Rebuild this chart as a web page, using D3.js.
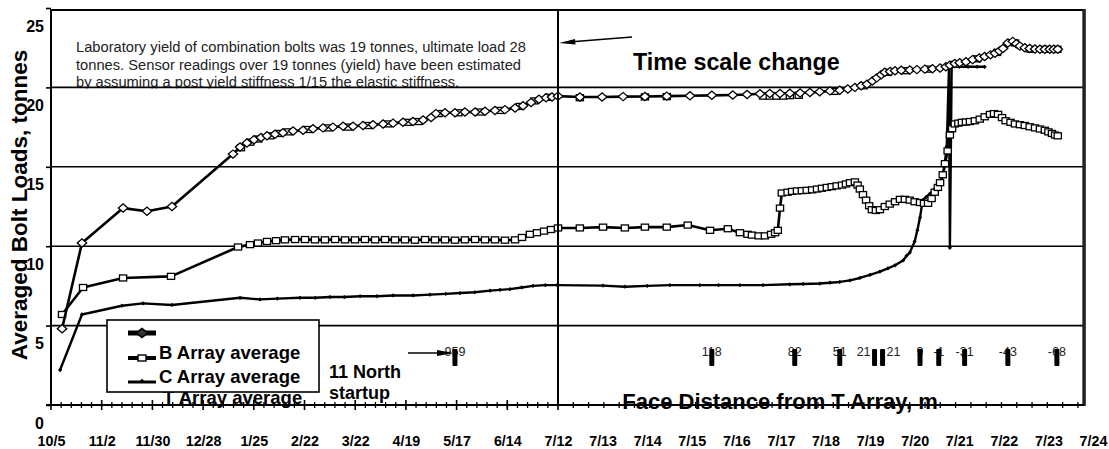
<!DOCTYPE html>
<html>
<head>
<meta charset="utf-8">
<script src="https://cdn.jsdelivr.net/npm/d3@7"></script>
<style>
  body { margin: 0; background: #fff; }
  svg text { font-family: "Liberation Sans", Arial, sans-serif; }
</style>
</head>
<body>
<svg id="chart" width="1109" height="449"></svg>
<script>
// x values are days counted from 10/5; after 7/12 (day 280) the scale is one label per day
const dateLabels = ["10/5", "11/2", "11/30", "12/28", "1/25", "2/22", "3/22", "4/19", "5/17", "6/14",
    "7/12", "7/13", "7/14", "7/15", "7/16", "7/17", "7/18", "7/19", "7/20", "7/21", "7/22", "7/23", "7/24"];
const dateDays = [0, 28, 56, 84, 112, 140, 168, 196, 224, 252,
    280, 281, 282, 283, 284, 285, 286, 287, 288, 289, 290, 291, 292];
const yTicks = [0, 5, 10, 15, 20, 25];
const gridValues = [5, 10, 15, 20];

// T array average (diamonds) [day, tonnes]
const tArray = [
    [6.1, 4.8], [17.1, 10.2], [39.8, 12.4], [53.0, 12.2], [66.8, 12.5], [100.5, 15.8], [104.4, 16.25],
    [108.2, 16.5], [112.1, 16.7], [116.0, 16.85], [119.3, 16.95], [123.7, 17.05], [128.1, 17.15],
    [133.7, 17.25], [139.2, 17.3], [144.7, 17.4], [150.2, 17.45], [155.7, 17.5], [161.3, 17.55],
    [166.8, 17.55], [172.3, 17.6], [177.8, 17.65], [183.4, 17.7], [188.9, 17.75], [194.4, 17.8],
    [199.9, 17.85], [205.5, 17.95], [209.9, 18.1], [212.6, 18.35], [217.6, 18.4], [223.1, 18.4],
    [228.6, 18.45], [234.2, 18.45], [239.7, 18.5], [245.2, 18.55], [250.7, 18.6], [256.3, 18.7],
    [260.7, 18.85], [265.1, 19.05], [269.5, 19.25], [273.4, 19.35], [276.7, 19.4], [280.0, 19.45],
    [280.49, 19.4], [280.99, 19.4], [281.46, 19.42], [281.95, 19.43], [282.44, 19.45], [282.96, 19.47],
    [283.45, 19.5], [283.92, 19.52], [284.24, 19.55], [284.53, 19.6], [284.75, 19.62], [284.98, 19.62],
    [285.2, 19.63], [285.43, 19.65], [285.65, 19.68], [285.87, 19.72], [286.1, 19.78], [286.32, 19.82],
    [286.5, 19.9], [286.66, 20.0], [286.8, 20.1], [286.93, 20.2], [287.05, 20.4], [287.15, 20.6],
    [287.25, 20.8], [287.33, 20.95], [287.45, 21.0], [287.56, 21.05], [287.7, 21.08], [287.89, 21.1],
    [288.05, 21.12], [288.23, 21.15], [288.4, 21.18], [288.57, 21.22], [288.7, 21.3], [288.79, 21.4],
    [288.9, 21.5], [289.01, 21.55], [289.15, 21.62], [289.3, 21.75], [289.45, 21.85], [289.57, 21.95],
    [289.7, 22.05], [289.8, 22.15], [289.9, 22.3], [289.98, 22.45], [290.09, 22.8], [290.2, 22.9],
    [290.28, 22.75], [290.36, 22.6], [290.47, 22.5], [290.58, 22.45], [290.7, 22.42], [290.81, 22.4],
    [290.92, 22.4], [291.03, 22.4], [291.12, 22.4], [291.21, 22.4]
];

// second trace on the upper curve (square markers)
const upperSquares = [
    [104.9, 16.2], [110, 16.55], [114.5, 16.75], [121, 16.95], [126, 17.1], [131, 17.2], [142, 17.35],
    [153, 17.45], [164, 17.5], [175, 17.6], [186, 17.7], [197, 17.8], [203, 17.85], [214, 18.35],
    [225, 18.4], [237, 18.45], [248, 18.55], [259, 18.8], [267, 19.15], [275, 19.38], [280.49, 19.35],
    [281.95, 19.4], [282.44, 19.42], [284.6, 19.45], [284.75, 19.45], [284.9, 19.45], [285.05, 19.45],
    [285.2, 19.48], [285.4, 19.5], [286.2, 19.75], [286.85, 20.1], [287.4, 20.95], [287.8, 21.05],
    [288.3, 21.15], [288.9, 21.45], [289.4, 21.8], [289.85, 22.2], [290.25, 22.8], [290.6, 22.4],
    [290.95, 22.4], [291.2, 22.4]
];

// B array average (squares)
const bArray = [
    [6.1, 5.7], [17.7, 7.4], [39.8, 8.0], [66.3, 8.1], [103.3, 9.95], [109.9, 10.1], [114.3, 10.2],
    [119.3, 10.3], [124.3, 10.35], [129.2, 10.4], [134.8, 10.42], [140.3, 10.42], [145.8, 10.4],
    [151.3, 10.4], [156.9, 10.42], [162.4, 10.4], [167.9, 10.4], [173.4, 10.42], [179, 10.4],
    [184.5, 10.42], [190, 10.4], [195.5, 10.4], [201, 10.38], [206.6, 10.42], [212.1, 10.4],
    [217.6, 10.4], [223.1, 10.38], [228.6, 10.4], [234.2, 10.42], [239.7, 10.4], [245.2, 10.4],
    [250.7, 10.38], [256.3, 10.4], [260.1, 10.55], [264.5, 10.75], [268.4, 10.85], [272.3, 10.95],
    [276.1, 11.05], [280, 11.15], [280.49, 11.15], [281.01, 11.2], [281.5, 11.15], [281.95, 11.2],
    [282.44, 11.2], [282.91, 11.33], [283.41, 11.0], [283.81, 11.1], [284.08, 10.85], [284.25, 10.75],
    [284.35, 10.7], [284.5, 10.65], [284.64, 10.65], [284.78, 10.75], [284.87, 10.85], [284.93, 11.0],
    [284.98, 12.4], [285.02, 13.35], [285.15, 13.4], [285.25, 13.45], [285.36, 13.48], [285.47, 13.5],
    [285.58, 13.52], [285.7, 13.55], [285.81, 13.6], [285.92, 13.65], [286.03, 13.7], [286.14, 13.75],
    [286.25, 13.8], [286.37, 13.85], [286.46, 13.92], [286.55, 14.0], [286.66, 14.05], [286.72, 13.85],
    [286.77, 13.6], [286.84, 13.25], [286.91, 12.9], [286.98, 12.55], [287.04, 12.3], [287.13, 12.25],
    [287.22, 12.3], [287.33, 12.5], [287.44, 12.65], [287.56, 12.8], [287.67, 12.95], [287.78, 12.95],
    [287.89, 12.9], [288.0, 12.8], [288.12, 12.75], [288.21, 12.7], [288.3, 12.7], [288.38, 13.0],
    [288.45, 13.4], [288.52, 13.7], [288.57, 14.0], [288.63, 14.5], [288.68, 15.2], [288.74, 16.0],
    [288.79, 17.0], [288.84, 17.4], [288.9, 17.7], [288.98, 17.75], [289.06, 17.8], [289.15, 17.82],
    [289.24, 17.85], [289.35, 17.9], [289.46, 18.0], [289.57, 18.15], [289.69, 18.3], [289.78, 18.35],
    [289.87, 18.3], [289.96, 18.1], [290.04, 17.9], [290.15, 17.8], [290.25, 17.7], [290.36, 17.65],
    [290.47, 17.6], [290.58, 17.52], [290.7, 17.45], [290.81, 17.38], [290.92, 17.3], [291.0, 17.2],
    [291.08, 17.1], [291.15, 17.0], [291.21, 16.95]
];

// C array average (small markers)
const cArray = [
    [5.0, 2.2], [17.1, 5.7], [39.2, 6.25], [50.8, 6.4], [66.8, 6.3], [104.4, 6.75], [115.4, 6.65],
    [125, 6.7], [137.5, 6.75], [146, 6.75], [154.1, 6.8], [162, 6.8], [170.7, 6.85], [180, 6.85],
    [188.9, 6.9], [200, 6.9], [209.3, 6.95], [218, 7.0], [225.9, 7.05], [234, 7.1], [242.5, 7.2],
    [248, 7.25], [253.5, 7.3], [260, 7.4], [266.2, 7.5], [273, 7.55], [279.5, 7.55], [281.01, 7.52],
    [281.5, 7.45], [282.0, 7.5], [282.51, 7.55], [283.18, 7.55], [283.6, 7.55], [284.08, 7.55],
    [284.6, 7.55], [285.2, 7.6], [285.5, 7.62], [285.87, 7.65], [286.1, 7.7], [286.32, 7.75],
    [286.55, 7.85], [286.77, 8.0], [287.0, 8.2], [287.22, 8.4], [287.4, 8.6], [287.56, 8.8],
    [287.74, 9.1], [287.82, 9.4], [287.89, 9.6], [288.0, 10.3], [288.06, 11.0], [288.12, 11.8],
    [288.18, 12.9], [288.26, 13.1], [288.34, 13.3], [288.43, 13.55], [288.52, 13.8], [288.6, 14.1],
    [288.65, 14.6], [288.72, 16.3], [288.77, 21.3], [288.79, 9.9], [288.83, 21.3], [289.0, 21.3],
    [289.2, 21.3], [289.4, 21.3], [289.57, 21.3]
];

// face distance from T array (m) at given days
const faceDays = [223.1, 283.45, 285.31, 286.32, 287.1, 287.28, 288.12, 288.54, 289.12, 290.09, 291.19];
const faceLabels = ["959", "118", "82", "51", "21", "21", "9", "-1", "-31", "-43", "-68"];

const noteLines = [
    "Laboratory yield of combination bolts was 19 tonnes, ultimate load 28",
    "tonnes.  Sensor readings over 19 tonnes (yield) have been estimated",
    "by assuming a post yield stiffness 1/15 the elastic stiffness."
];
const legendLabels = ["", "B Array average", "C Array average"];

const xEnd = 291.8;
const x = d3.scaleLinear().domain([0, 280, 292]).range([51, 558, 1093]);
const y = d3.scaleLinear().domain([0, 25]).range([405, 8]);
const plotL = x(0), plotR = x(xEnd), plotT = 10, plotB = y(0);

const svg = d3.select("#chart");
svg.append("rect").attr("width", 1109).attr("height", 449).attr("fill", "#fff");

// note text, clipped at the 20 t gridline
svg.append("clipPath").attr("id", "noteClip")
    .append("rect").attr("x", 0).attr("y", 0).attr("width", 600).attr("height", y(20) + 1);
svg.append("g").attr("clip-path", "url(#noteClip)")
    .selectAll("text").data(noteLines).join("text")
    .attr("x", 76)
    .attr("y", (d, i) => 52 + i * 17.7)
    .attr("font-size", 14.7)
    .attr("fill", "#222")
    .text(d => d);

// gridlines
svg.append("g").selectAll("line").data(gridValues).join("line")
    .attr("x1", plotL).attr("x2", plotR)
    .attr("y1", d => y(d)).attr("y2", d => y(d))
    .attr("stroke", "#000").attr("stroke-width", 1.6);

const line = d3.line().x(d => x(d[0])).y(d => y(d[1]));

// C series
svg.append("path").datum(cArray).attr("d", line)
    .attr("fill", "none").attr("stroke", "#000").attr("stroke-width", 2.4).attr("stroke-linejoin", "round");
svg.append("g").selectAll("path").data(cArray).join("path")
    .attr("transform", d => `translate(${x(d[0])},${y(d[1])}) rotate(45)`)
    .attr("d", d3.symbol(d3.symbolSquare, 9))
    .attr("fill", "#000");

// B series
svg.append("path").datum(bArray).attr("d", line)
    .attr("fill", "none").attr("stroke", "#000").attr("stroke-width", 2.6).attr("stroke-linejoin", "round");
svg.append("g").selectAll("rect").data(bArray).join("rect")
    .attr("x", d => x(d[0]) - 3.6).attr("y", d => y(d[1]) - 3)
    .attr("width", 7.2).attr("height", 6)
    .attr("fill", "#fff").attr("stroke", "#000").attr("stroke-width", 1.3);

// upper curve
svg.append("path").datum(tArray).attr("d", line)
    .attr("fill", "none").attr("stroke", "#000").attr("stroke-width", 2.6).attr("stroke-linejoin", "round");
svg.append("g").selectAll("rect").data(upperSquares).join("rect")
    .attr("x", d => x(d[0]) - 3.6).attr("y", d => y(d[1]) - 3)
    .attr("width", 7.2).attr("height", 6)
    .attr("fill", "#fff").attr("stroke", "#000").attr("stroke-width", 1.3);
svg.append("g").selectAll("path").data(tArray).join("path")
    .attr("transform", d => `translate(${x(d[0])},${y(d[1])}) scale(1.15,1) rotate(45)`)
    .attr("d", d3.symbol(d3.symbolSquare, 34))
    .attr("fill", "#fff").attr("stroke", "#000").attr("stroke-width", 1.2);

// time scale change line
svg.append("line")
    .attr("x1", x(280)).attr("x2", x(280)).attr("y1", plotT).attr("y2", plotB)
    .attr("stroke", "#000").attr("stroke-width", 2);

// x axis title (struck through by the axis line)
svg.append("text")
    .attr("x", 780).attr("y", 409)
    .attr("text-anchor", "middle")
    .attr("font-size", 22).attr("font-weight", "bold")
    .text("Face Distance from T Array, m");

// frame
svg.append("line").attr("x1", plotL).attr("x2", plotR).attr("y1", plotT).attr("y2", plotT)
    .attr("stroke", "#000").attr("stroke-width", 2);
svg.append("line").attr("x1", plotL).attr("x2", plotL).attr("y1", plotT - 1).attr("y2", plotB)
    .attr("stroke", "#000").attr("stroke-width", 2);
svg.append("line").attr("x1", plotR).attr("x2", plotR).attr("y1", plotT - 1).attr("y2", plotB + 1)
    .attr("stroke", "#222").attr("stroke-width", 3.5);
svg.append("line").attr("x1", plotL - 5).attr("x2", plotR).attr("y1", plotB).attr("y2", plotB)
    .attr("stroke", "#000").attr("stroke-width", 1.8);

// bottom ticks
const majorDays = dateDays.filter(d => d <= 280);
const minorDays = d3.range(0, 280, 5.6).filter(d => d % 28 > 0.1)
    .concat(d3.range(280.343, xEnd, 0.343));
svg.append("g").selectAll("line").data(majorDays).join("line")
    .attr("x1", d => x(d)).attr("x2", d => x(d))
    .attr("y1", plotB - 5).attr("y2", plotB + 5)
    .attr("stroke", "#000").attr("stroke-width", 1.6);
svg.append("g").selectAll("line").data(minorDays).join("line")
    .attr("x1", d => x(d)).attr("x2", d => x(d))
    .attr("y1", plotB - 3).attr("y2", plotB + 3)
    .attr("stroke", "#000").attr("stroke-width", 1.3);

const xAxis = d3.axisBottom(x)
    .tickValues(dateDays)
    .tickFormat((d, i) => dateLabels[i])
    .tickSize(0)
    .tickPadding(31);
const gx = svg.append("g").attr("transform", `translate(0,${plotB})`).call(xAxis);
gx.select(".domain").remove();
gx.selectAll("text")
    .attr("font-size", 14.3).attr("font-weight", "bold").attr("fill", "#000")
    .style("font-family", "'Liberation Sans', Arial, sans-serif");

const yAxis = d3.axisLeft(y).tickValues(yTicks).tickSize(5).tickPadding(2);
const gy = svg.append("g").attr("transform", `translate(${plotL},0)`).call(yAxis);
gy.select(".domain").remove();
gy.selectAll(".tick line").attr("stroke", "#000").attr("stroke-width", 1.6);
gy.selectAll("text")
    .attr("dy", 23)
    .attr("font-size", 16).attr("font-weight", "bold").attr("fill", "#000")
    .style("font-family", "'Liberation Sans', Arial, sans-serif");

// y axis title
svg.append("text")
    .attr("transform", "translate(27,205) rotate(-90)")
    .attr("text-anchor", "middle")
    .attr("font-size", 22.5).attr("font-weight", "bold")
    .text("Averaged Bolt Loads, tonnes");

// Time scale change note and arrow
svg.append("text")
    .attr("x", 633).attr("y", 70)
    .attr("font-size", 23.3).attr("font-weight", "bold")
    .text("Time scale change");
svg.append("line")
    .attr("x1", 632).attr("y1", 37).attr("x2", x(280) + 14).attr("y2", 41.8)
    .attr("stroke", "#000").attr("stroke-width", 1.5);
svg.append("path")
    .attr("d", `M${x(280) + 1},43 L${x(280) + 17},39 L${x(280) + 17.5},44.5 Z`)
    .attr("fill", "#000");

// face distance markers
const faceX = faceDays.map(d => x(d));
svg.append("g").selectAll("text").data(faceLabels).join("text")
    .attr("x", (d, i) => {
        if (i + 1 < faceX.length && faceX[i + 1] - faceX[i] < 12) return faceX[i] - 4;
        if (i > 0 && faceX[i] - faceX[i - 1] < 12) return faceX[i] + 4;
        return faceX[i];
    })
    .attr("text-anchor", (d, i) => {
        if (i + 1 < faceX.length && faceX[i + 1] - faceX[i] < 12) return "end";
        if (i > 0 && faceX[i] - faceX[i - 1] < 12) return "start";
        return "middle";
    })
    .attr("y", 356)
    .attr("font-size", 12.5)
    .attr("fill", "#222")
    .text(d => d);
svg.append("g").selectAll("rect").data(faceDays).join("rect")
    .attr("x", d => x(d) - 2.5).attr("y", 349)
    .attr("width", 5).attr("height", 17)
    .attr("rx", 1)
    .attr("fill", "#000");

// 11 North startup
svg.append("text").attr("x", 329).attr("y", 378)
    .attr("font-size", 18).attr("font-weight", "bold").text("11 North");
svg.append("text").attr("x", 329).attr("y", 399)
    .attr("font-size", 18).attr("font-weight", "bold").text("startup");
svg.append("line")
    .attr("x1", 408).attr("y1", 353).attr("x2", x(faceDays[0]) - 16).attr("y2", 353)
    .attr("stroke", "#000").attr("stroke-width", 1.5);
svg.append("path")
    .attr("d", `M${x(faceDays[0]) - 1},353 L${x(faceDays[0]) - 18},350 L${x(faceDays[0]) - 18},356 Z`)
    .attr("fill", "#000");

// legend (fourth label spills below the box)
svg.append("text").attr("x", 163).attr("y", 404)
    .attr("font-size", 18.5).attr("font-weight", "bold").text("T Array average");
const legend = svg.append("g");
legend.append("rect")
    .attr("x", 107).attr("y", 320).attr("width", 212).attr("height", 72)
    .attr("fill", "#fff").attr("stroke", "#000").attr("stroke-width", 1.6);
const rowY = [333, 358, 382];
const rowWidth = [5, 4, 3];
legend.selectAll("line").data(rowY).join("line")
    .attr("x1", 128).attr("x2", 156)
    .attr("y1", d => d).attr("y2", d => d)
    .attr("stroke", "#000").attr("stroke-width", (d, i) => rowWidth[i]);
legend.append("path")
    .attr("transform", `translate(142,${rowY[0]}) scale(1.3,1) rotate(45)`)
    .attr("d", d3.symbol(d3.symbolSquare, 40))
    .attr("fill", "#333").attr("stroke", "#000").attr("stroke-width", 1.4);
legend.append("rect")
    .attr("x", 138).attr("y", rowY[1] - 3).attr("width", 8).attr("height", 6)
    .attr("fill", "#fff").attr("stroke", "#000").attr("stroke-width", 1.4);
legend.append("path")
    .attr("transform", `translate(142,${rowY[2] - 1}) rotate(45)`)
    .attr("d", d3.symbol(d3.symbolSquare, 10))
    .attr("fill", "#000");
legend.selectAll("text").data(legendLabels).join("text")
    .attr("x", 159)
    .attr("y", (d, i) => rowY[i] + 1)
    .attr("font-size", 18.5).attr("font-weight", "bold")
    .text(d => d);
</script>
</body>
</html>
